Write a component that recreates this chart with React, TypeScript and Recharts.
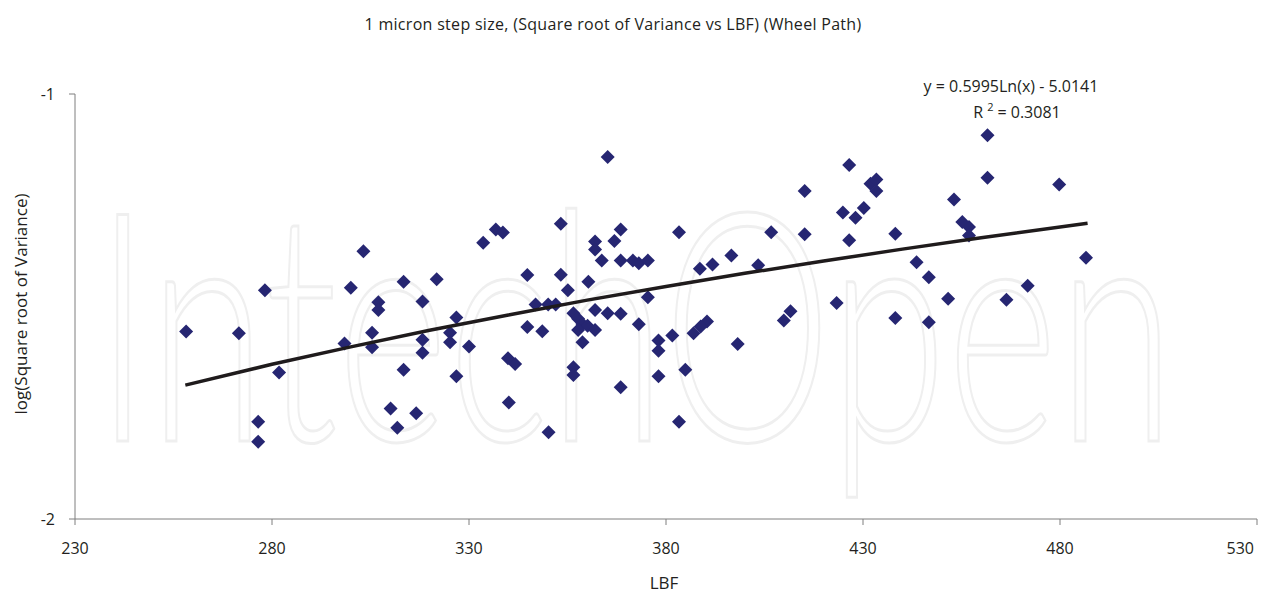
import { ScatterChart, Scatter, XAxis, YAxis } from 'recharts';

// LBF readings and log(sqrt variance)
const lbf = [
  258.2, 271.6, 278.2, 281.8, 276.5, 276.5,
  303.2, 300.0, 298.4, 305.4, 305.4, 307.0, 307.0, 313.4, 318.2, 318.2, 318.2, 313.4, 310.1, 311.8,
  316.6, 321.8, 326.8, 325.2, 325.2, 330.0, 326.8, 333.6, 336.8,
  338.6, 365.2, 353.3, 344.8, 353.3, 355.1, 360.3, 362.0, 362.0, 363.7, 366.9, 368.5, 368.5, 371.6,
  373.1, 375.4, 375.4, 346.9, 350.1, 352.0, 344.8, 348.6, 339.9, 341.7, 340.1, 350.2, 356.5, 357.7,
  358.8, 360.1, 357.7, 362.0, 358.8, 362.0, 365.2, 368.5, 373.1, 356.5, 356.5, 368.5,
  378.1, 378.1, 378.1, 415.2, 383.3, 406.7, 415.2, 396.6, 388.6, 391.8, 403.4, 411.6, 409.9, 390.4,
  388.8, 387.0, 381.6, 398.2, 384.9, 383.3,
  426.5, 431.9, 433.4, 433.4, 424.9, 428.1, 430.2, 426.5, 438.2, 453.1, 455.2, 456.9, 456.9, 443.6,
  446.7, 451.6, 423.3, 438.2, 446.7,
  461.6, 461.6, 479.8, 486.6, 471.8, 466.4,
];
const logSqrtVariance = [
  -1.559, -1.563, -1.462, -1.655, -1.771, -1.818,
  -1.37, -1.456, -1.587, -1.562, -1.596, -1.49, -1.508, -1.442, -1.488, -1.578, -1.609, -1.649, -1.74, -1.785,
  -1.751, -1.436, -1.526, -1.562, -1.584, -1.594, -1.664, -1.35, -1.319,
  -1.326, -1.148, -1.305, -1.426, -1.425, -1.462, -1.442, -1.347, -1.366, -1.392, -1.346, -1.319, -1.392, -1.392,
  -1.398, -1.392, -1.478, -1.495, -1.495, -1.495, -1.548, -1.558, -1.622, -1.635, -1.726, -1.796, -1.516, -1.529,
  -1.541, -1.545, -1.555, -1.555, -1.584, -1.508, -1.516, -1.517, -1.542, -1.643, -1.661, -1.69,
  -1.58, -1.604, -1.664, -1.228, -1.325, -1.325, -1.33, -1.38, -1.411, -1.401, -1.403, -1.511, -1.533, -1.535,
  -1.547, -1.563, -1.568, -1.588, -1.649, -1.771,
  -1.167, -1.211, -1.201, -1.228, -1.279, -1.291, -1.268, -1.344, -1.329, -1.248, -1.301, -1.313, -1.333, -1.396,
  -1.431, -1.482, -1.492, -1.527, -1.537,
  -1.097, -1.197, -1.213, -1.385, -1.451, -1.484,
];

// log trendline as drawn (y = 0.5995Ln(x) - 5.0141)
const trendLbf = [258, 280, 300, 320, 340, 360, 380, 400, 420, 440, 460, 487];
const trendValue = [-1.685, -1.636, -1.595, -1.556, -1.52, -1.485, -1.453, -1.422, -1.393, -1.365, -1.338, -1.304];

const xTicks = [230, 280, 330, 380, 430, 480, 530];
const yTicks = [-2, -1];

const points = lbf.map((x, i) => ({ x, y: logSqrtVariance[i] }));
const trend = trendLbf.map((x, i) => ({ x, y: trendValue[i] }));

const FONT = '"Open Sans", sans-serif';
const TEXT = '#231f20';
const AXIS = '#7f7f7f';

function Diamond(props: any) {
  const { cx, cy } = props;
  const r = 7;
  return (
    <polygon
      points={`${cx},${cy - r} ${cx + r},${cy} ${cx},${cy + r} ${cx - r},${cy}`}
      fill="#262672"
    />
  );
}

// last label sits inside the right edge, like the original
function XTick(props: any) {
  const { x, y, payload } = props;
  const last = payload.value === xTicks[xTicks.length - 1];
  return (
    <text
      x={last ? x + 1 : x}
      y={y}
      dy="0.71em"
      textAnchor={last ? 'end' : 'middle'}
      fill={TEXT}
      fontSize={16}
      fontFamily={FONT}
    >
      {payload.value}
    </text>
  );
}

export default function App() {
  return (
    <div style={{ position: 'absolute', left: 0, top: 0, width: 1265, height: 592, background: '#fff' }}>
      <svg width={1265} height={592} style={{ position: 'absolute', left: 0, top: 0 }}>
        <text
          x={95}
          y={441}
          fontFamily="Lato, sans-serif"
          fontWeight={300}
          fontSize={320}
          textLength={1080}
          lengthAdjust="spacingAndGlyphs"
          fill="none"
          stroke="#efefef"
          strokeWidth={3}
        >
          IntechOpen
        </text>
      </svg>
      <div style={{ position: 'absolute', left: 0, top: 0 }}>
        <ScatterChart width={1265} height={592} margin={{ top: 94, right: 8, bottom: 33, left: 0 }}>
          <XAxis
            type="number"
            dataKey="x"
            domain={[230, 530]}
            ticks={xTicks}
            allowDataOverflow
            height={40}
            stroke={AXIS}
            tickSize={6}
            tickMargin={18}
            tick={<XTick />}
          />
          <YAxis
            type="number"
            dataKey="y"
            domain={[-2, -1]}
            ticks={yTicks}
            allowDataOverflow
            width={75}
            stroke={AXIS}
            tickSize={6}
            tickMargin={14}
            tick={{ fill: TEXT, fontSize: 16, fontFamily: FONT }}
          />
          <Scatter data={points} shape={Diamond} isAnimationActive={false} />
          <Scatter
            data={trend}
            line={{ stroke: '#1f1b1c', strokeWidth: 3.5 }}
            lineType="joint"
            shape={() => <g />}
            isAnimationActive={false}
          />
        </ScatterChart>
      </div>
      <svg width={1265} height={592} style={{ position: 'absolute', left: 0, top: 0, pointerEvents: 'none' }}>
        <g fontFamily={FONT} fill={TEXT}>
          <text x={613} y={24} textAnchor="middle" dominantBaseline="central" fontSize={16} letterSpacing={0.3}>
            1 micron step size, (Square root of Variance vs LBF) (Wheel Path)
          </text>
          <text x={1011} y={86} textAnchor="middle" dominantBaseline="central" fontSize={16}>
            y = 0.5995Ln(x) - 5.0141
          </text>
          <text x={1017} y={112} fontSize={16} textAnchor="middle">
            <tspan dy="0.35em">R</tspan>
            <tspan dx={4} dy={-7} fontSize={11}>2</tspan>
            <tspan dx={4} dy={7}>= 0.3081</tspan>
          </text>
          <text x={664} y={582} textAnchor="middle" dominantBaseline="central" fontSize={17}>
            LBF
          </text>
          <text
            x={20}
            y={304}
            textAnchor="middle"
            dominantBaseline="central"
            fontSize={17}
            transform="rotate(-90 20 304)"
          >
            log(Square root of Variance)
          </text>
        </g>
      </svg>
    </div>
  );
}
